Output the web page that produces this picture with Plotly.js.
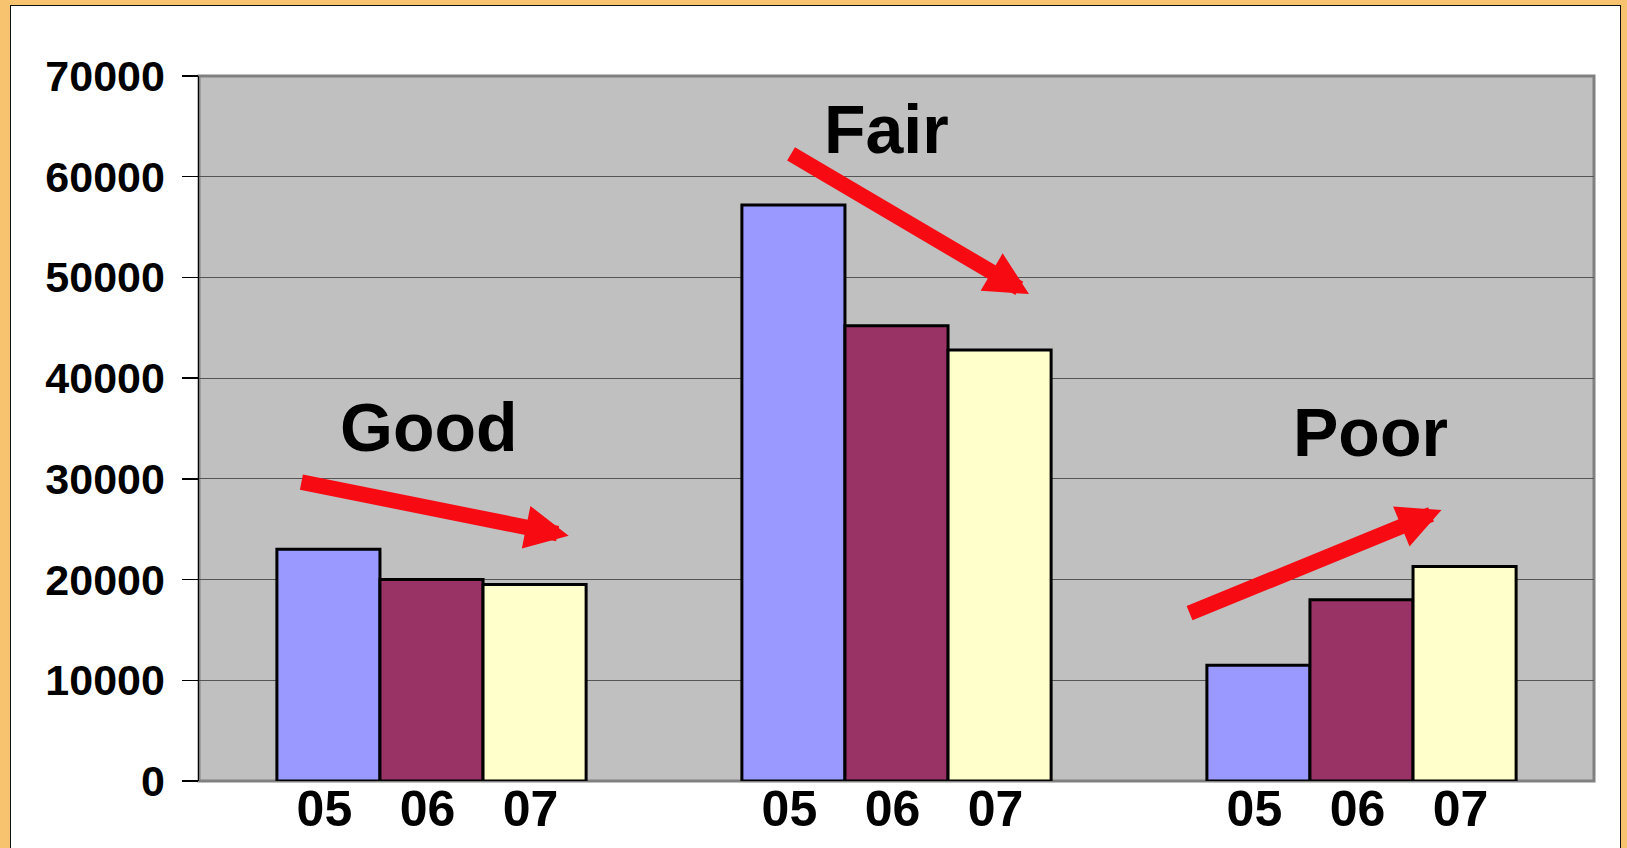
<!DOCTYPE html>
<html>
<head>
<meta charset="utf-8">
<script src="https://cdn.plot.ly/plotly-3.0.1.min.js"></script>
<style>
  html, body { margin: 0; padding: 0; width: 1627px; height: 848px; overflow: hidden; background: #F7C36F; }
  #panel { position: absolute; left: 10px; top: 5px; width: 1609px; height: 900px; background: #ffffff; border: 1.5px solid #111; }
  #chart { position: absolute; left: 0; top: 0; width: 1627px; height: 848px; }
</style>
</head>
<body>
<div id="panel"></div>
<div id="chart"></div>
<script>
// ---- data ----
const groups = ['Good', 'Fair', 'Poor'];
const years = ['05', '06', '07'];
const values05 = [23000, 57200, 11500];
const values06 = [20000, 45200, 18000];
const values07 = [19500, 42800, 21300];
const yTickVals = [0, 10000, 20000, 30000, 40000, 50000, 60000, 70000];

// ---- styling ----
const seriesColors = ['#9999FF', '#993366', '#FFFFCC'];
const BARGAP = 0.335;
const FONT = 'Arial, "Liberation Sans", Helvetica, sans-serif';
const RED = '#F70A12';

const seriesValues = [values05, values06, values07];
const gx = groups.map((g, i) => i);

const traces = seriesValues.map((vals, k) => ({
  type: 'bar',
  name: years[k],
  x: gx,
  y: vals,
  marker: { color: seriesColors[k], line: { color: '#000000', width: 3 } },
  hoverinfo: 'y'
}));

// x tick labels: one per bar, centered under each bar
const tickvals = [], ticktext = [];
gx.forEach(g => {
  years.forEach((yr, i) => {
    tickvals.push(g + (i - 1) * (1 - BARGAP) / years.length);
    ticktext.push(yr);
  });
});

function groupLabel(text, x, y) {
  return { text: text, x: x, y: y, xref: 'x', yref: 'y', showarrow: false,
           xanchor: 'center', yanchor: 'middle',
           font: { family: FONT, size: 68, color: '#000', weight: 'bold' } };
}
function arrow(ax, ay, x, y) {
  return { text: '', x: x, y: y, ax: ax, ay: ay, xref: 'x', yref: 'y', axref: 'x', ayref: 'y',
           showarrow: true, arrowhead: 2, arrowsize: 0.56, arrowwidth: 15.5, arrowcolor: RED, standoff: 0 };
}

const layout = {
  width: 1627, height: 848,
  margin: { l: 199, r: 33, t: 76, b: 67, pad: 0 },
  paper_bgcolor: 'rgba(0,0,0,0)',
  plot_bgcolor: '#C0C0C0',
  showlegend: false,
  barmode: 'group',
  bargap: BARGAP,
  bargroupgap: 0,
  xaxis: {
    range: [-0.5, groups.length - 0.5],
    tickvals: tickvals, ticktext: ticktext,
    ticks: '', showgrid: false, zeroline: false, showline: false,
    tickfont: { family: FONT, size: 50, color: '#000', weight: 'bold' },
    ticklabelstandoff: -6,
    ticklabelshift: -4,
    fixedrange: true
  },
  yaxis: {
    range: [0, 70000],
    tickvals: yTickVals, tickformat: 'd',
    ticks: 'outside', ticklen: 16, tickwidth: 1.5, tickcolor: '#000',
    showline: true, linecolor: '#000', linewidth: 1.5,
    showgrid: true, gridcolor: '#555555', gridwidth: 1.2,
    zeroline: false,
    tickfont: { family: FONT, size: 43, color: '#000', weight: 'bold' },
    ticklabelstandoff: 8,
    fixedrange: true
  },
  shapes: [
    { type: 'rect', xref: 'paper', yref: 'paper', x0: 0, x1: 1, y0: 0, y1: 1,
      line: { color: '#808080', width: 3 }, layer: 'below' }
  ],
  annotations: [
    groupLabel('Good', -0.005, 35100),
    groupLabel('Fair', 0.978, 64700),
    groupLabel('Poor', 2.02, 34650),
    arrow(-0.283, 29700, 0.295, 24350),
    arrow(0.77, 62350, 1.285, 48350),
    arrow(1.627, 16600, 2.172, 26900)
  ]
};

Plotly.newPlot('chart', traces, layout, { displayModeBar: false, staticPlot: true });
</script>
</body>
</html>
